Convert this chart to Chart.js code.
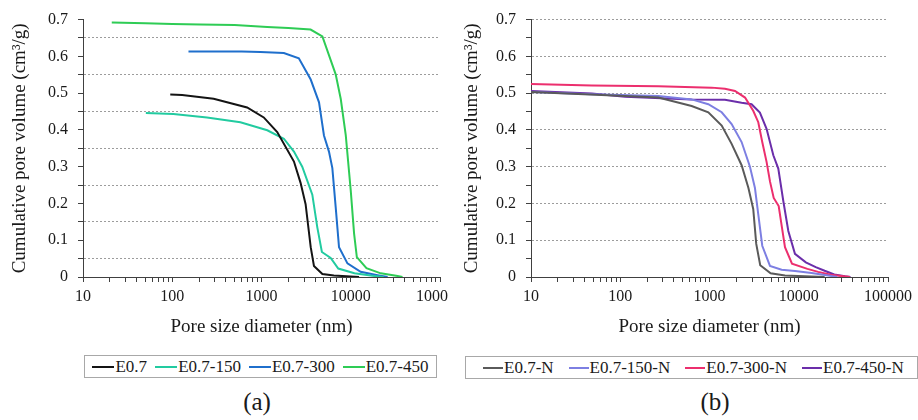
<!DOCTYPE html>
<html><head><meta charset="utf-8">
<script src="https://cdn.jsdelivr.net/npm/chart.js@4"></script>
<style>
body{margin:0;background:#fff;width:918px;height:420px;position:relative;overflow:hidden;font-family:"Liberation Serif",serif;color:#1a1a1a}
#wa{position:absolute;left:0;top:0;width:448px;height:345px;overflow:hidden}
#wb{position:absolute;left:450px;top:0;width:468px;height:345px;overflow:hidden}
.leg{position:absolute;border:1px solid #a8a8a8;display:flex;align-items:center;font-size:17px;box-sizing:border-box;height:23px}
.it{display:flex;align-items:center;white-space:nowrap}
.sw{display:inline-block;height:2px;margin-right:1px}
.cap{position:absolute;font-size:25px;top:387px;line-height:30px;width:60px;text-align:center}
</style>
</head><body>
<div id="wa"><canvas id="ca" width="480" height="345"></canvas></div>
<div id="wb"><canvas id="cb" width="468" height="345"></canvas></div>
<div id="la" class="leg" style="left:84px;top:355px;width:353px;justify-content:center;gap:8px"></div>
<div id="lb" class="leg" style="left:465px;top:356px;width:453px;padding-left:17px;gap:15px"></div>
<div class="cap" style="left:227px">(a)</div>
<div class="cap" style="left:685px">(b)</div>
<script>
// ---- data ----
const xTickLabels = ['10','100','1000','10000','100000'];
const yTickLabels = ['0','0.1','0.2','0.3','0.4','0.5','0.6','0.7'];
const seriesA = ['E0.7','E0.7-150','E0.7-300','E0.7-450'];
const seriesB = ['E0.7-N','E0.7-150-N','E0.7-300-N','E0.7-450-N'];

const a1_d = [95, 129, 291, 690, 1060, 1500, 2310, 2740, 3120, 3560, 3870, 4810, 6470, 12400];
const a1_v = [0.496, 0.495, 0.485, 0.461, 0.434, 0.394, 0.314, 0.256, 0.198, 0.081, 0.030, 0.008, 0.004, 0.000];
const a2_d = [50.6, 103, 245, 580, 1160, 1780, 2310, 2860, 3710, 4220, 4750, 5960, 7250, 11000, 18300, 23400];
const a2_v = [0.446, 0.443, 0.434, 0.421, 0.399, 0.376, 0.341, 0.300, 0.224, 0.135, 0.068, 0.052, 0.023, 0.010, 0.003, 0.000];
const a3_d = [152, 300, 600, 975, 1780, 2620, 3560, 4410, 5010, 5700, 6220, 6780, 7390, 9180, 12900, 19950, 25900];
const a3_v = [0.613, 0.613, 0.613, 0.612, 0.609, 0.595, 0.537, 0.475, 0.385, 0.341, 0.296, 0.190, 0.081, 0.037, 0.014, 0.005, 0.000];
const a4_d = [21, 50, 100, 206, 500, 1159, 2000, 3550, 4810, 6780, 7730, 8790, 10000, 10900, 11700, 15000, 21700, 33500, 38000];
const a4_v = [0.692, 0.690, 0.688, 0.687, 0.685, 0.680, 0.677, 0.673, 0.654, 0.551, 0.484, 0.386, 0.235, 0.118, 0.054, 0.024, 0.010, 0.003, 0.000];

const b1_d = [10, 113, 267, 631, 970, 1370, 1770, 2290, 2730, 3090, 3340, 3700, 4840, 7010, 19500];
const b1_v = [0.503, 0.492, 0.488, 0.465, 0.448, 0.412, 0.362, 0.304, 0.242, 0.185, 0.090, 0.032, 0.010, 0.004, 0.000];
const b2_d = [10, 48, 267, 631, 970, 1370, 1770, 2290, 2840, 3230, 3520, 3900, 4760, 6430, 9070, 13900, 21400, 27000];
const b2_v = [0.503, 0.497, 0.492, 0.483, 0.470, 0.448, 0.416, 0.367, 0.300, 0.242, 0.170, 0.085, 0.030, 0.020, 0.016, 0.011, 0.004, 0.000];
const b3_d = [10, 48, 267, 1057, 1490, 1930, 2500, 3090, 3520, 3900, 4360, 4760, 5240, 5960, 6480, 7010, 8400, 12500, 16500, 22800, 37500];
const b3_v = [0.525, 0.521, 0.519, 0.515, 0.512, 0.506, 0.488, 0.452, 0.421, 0.367, 0.313, 0.260, 0.215, 0.193, 0.135, 0.081, 0.036, 0.022, 0.014, 0.006, 0.000];
const b4_d = [10, 48, 113, 631, 1490, 2290, 2960, 3670, 4360, 5190, 5900, 6720, 7640, 9070, 12000, 15500, 19500, 25000, 33000, 38000];
const b4_v = [0.506, 0.499, 0.490, 0.483, 0.482, 0.474, 0.470, 0.447, 0.403, 0.331, 0.295, 0.206, 0.125, 0.063, 0.040, 0.027, 0.017, 0.007, 0.002, 0.000];

// ---- styles ----
const colorsA = ['#141414', '#22cba0', '#1f6fcc', '#2ecc55'];
const colorsB = ['#5a5a5a', '#7d7fe2', '#ec2f6e', '#6b2eaa'];
const AXIS = '#404040';
const GRID = '#9c9c9c';
const CLEAR = 'rgba(0,0,0,0)';

const xTickValues = [];
xTickLabels.forEach((lab, i) => {
  const base = Number(lab);
  const mults = i === xTickLabels.length - 1 ? [1] : [1,2,3,4,5,6,7,8,9];
  mults.forEach(m => xTickValues.push(base * m));
});
const yTickValues = [];
for (let k = 0; k <= 14; k++) yTickValues.push(Math.round(k * 5) / 100);

function buildChart(canvasId, names, series, colors, cfg) {
  const FAM = cfg.family;
  const datasets = names.map((n, i) => ({
    label: n,
    data: series[i][0].map((x, j) => ({x: x, y: series[i][1][j]})),
    borderColor: colors[i], backgroundColor: colors[i],
    borderWidth: 2, pointRadius: 0, tension: 0, fill: false
  }));
  return new Chart(document.getElementById(canvasId), {
    type: 'line',
    data: {datasets},
    options: {
      responsive: false, animation: false, devicePixelRatio: 1,
      layout: {padding: {left: 0, top: 16, right: cfg.padRight, bottom: 0}},
      plugins: {legend: {display: false}, tooltip: {enabled: false}},
      scales: {
        x: {
          type: 'logarithmic', min: 10, max: 100000,
          afterBuildTicks: s => { s.ticks = xTickValues.map(v => ({value: v})); },
          afterFit: s => { s.height = 68; },
          ticks: {autoSkip: false, maxRotation: 0, minRotation: 0, padding: 5, color: '#1a1a1a',
            font: {family: FAM, size: 16},
            callback: v => xTickLabels.includes(String(v)) ? String(v) : ''},
          grid: {drawOnChartArea: false, drawTicks: true, tickLength: 5, tickColor: AXIS, tickBorderDash: []},
          border: {display: true, color: AXIS, width: 1},
          title: {display: true, text: 'Pore size diameter (nm)', color: '#1a1a1a',
            font: {family: FAM, size: 19}, padding: {top: 0, bottom: 7}}
        },
        y: {
          type: 'linear', min: 0, max: 0.7,
          afterBuildTicks: s => { s.ticks = yTickValues.map(v => ({value: v})); },
          afterFit: s => { s.width = cfg.yWidth; },
          ticks: {autoSkip: false, padding: 10, color: '#1a1a1a', font: {family: FAM, size: 16},
            callback: v => { const k = Math.round(v * 100); return k % 10 === 0 ? yTickLabels[k / 10] : ''; }},
          grid: {color: cfg.gridColor, lineWidth: 1, drawTicks: true, tickLength: 5, tickColor: AXIS, tickBorderDash: []},
          border: {display: true, color: AXIS, width: 1, dash: [2, 2]},
          title: {display: true, text: 'Cumulative pore volume (cm³/g)', color: '#1a1a1a',
            font: {family: FAM, size: 19}, padding: {top: cfg.titlePad, bottom: 0}}
        }
      }
    }
  });
}

function buildLegend(id, names, colors, lineW) {
  const box = document.getElementById(id);
  names.forEach((n, i) => {
    const it = document.createElement('span'); it.className = 'it';
    const sw = document.createElement('span'); sw.className = 'sw';
    sw.style.width = lineW + 'px'; sw.style.background = colors[i];
    const tx = document.createElement('span'); tx.textContent = n;
    it.appendChild(sw); it.appendChild(tx); box.appendChild(it);
  });
}

buildChart('ca', seriesA, [[a1_d, a1_v], [a2_d, a2_v], [a3_d, a3_v], [a4_d, a4_v]], colorsA, {
  padRight: 40, yWidth: 83, titlePad: 9, family: 'Liberation Serif',
  gridColor: ctx => { const k = Math.round(ctx.tick.value * 100); return k % 10 === 5 ? GRID : CLEAR; }
});
buildChart('cb', seriesB, [[b1_d, b1_v], [b2_d, b2_v], [b3_d, b3_v], [b4_d, b4_v]], colorsB, {
  padRight: 30, yWidth: 81, titlePad: 11, family: 'serif',
  gridColor: ctx => { const k = Math.round(ctx.tick.value * 100); return (k > 0 && k % 10 === 0) ? GRID : CLEAR; }
});
buildLegend('la', seriesA, colorsA, 22);
buildLegend('lb', seriesB, colorsB, 20);
</script>
</body></html>
